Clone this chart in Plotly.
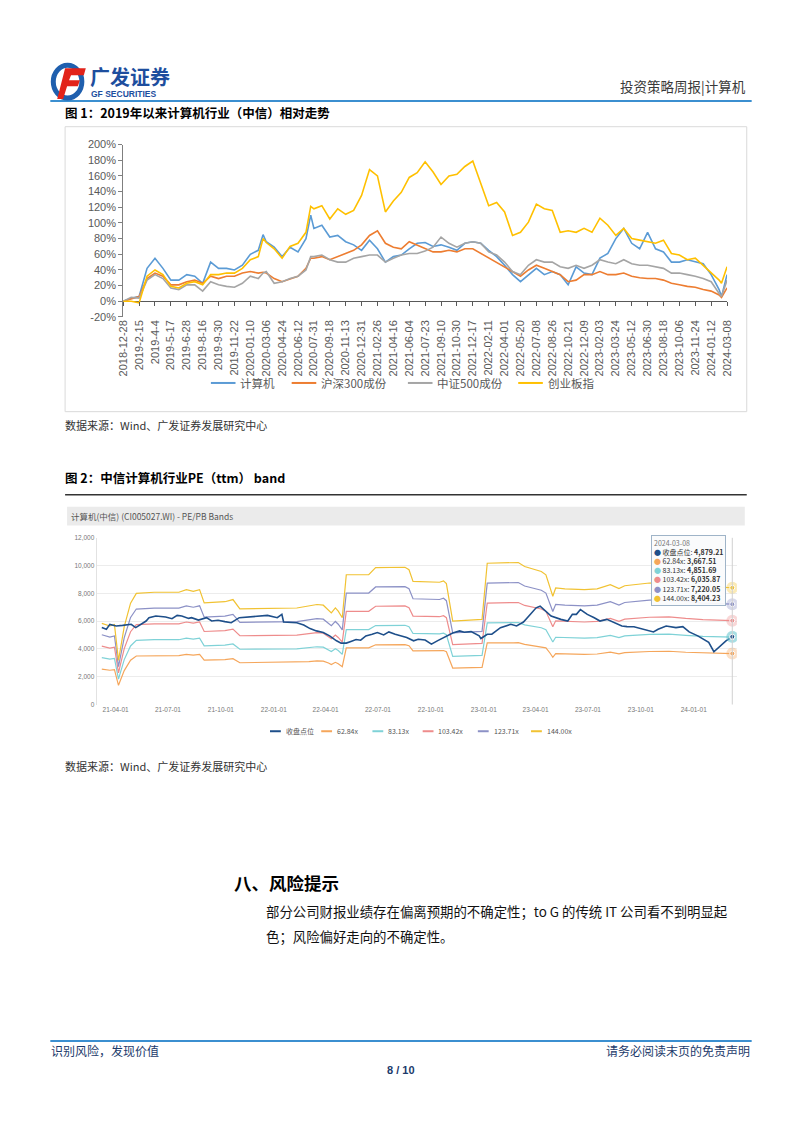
import plotly.graph_objects as go

W, H = 802, 1133
def X(px): return px / W
def Y(py): return 1 - py / H

CJK = "Noto Sans CJK SC"
LAT = "Liberation Sans, Arial"

# ---------------- Figure 1 data (relative performance, %) ----------------
tick_labels = ["2018-12-28","2019-2-15","2019-4-4","2019-5-17","2019-6-28","2019-8-16","2019-9-30",
               "2019-11-22","2020-01-10","2020-03-06","2020-04-24","2020-06-12","2020-07-31","2020-09-18",
               "2020-11-13","2020-12-31","2021-02-26","2021-04-16","2021-06-04","2021-07-23","2021-09-10",
               "2021-10-30","2021-12-17","2022-02-11","2022-04-01","2022-05-20","2022-07-08","2022-08-26",
               "2022-10-21","2022-12-09","2023-02-03","2023-03-24","2023-05-12","2023-06-30","2023-08-18",
               "2023-10-06","2023-11-24","2024-01-12","2024-03-08"]
y_ticks = [-20, 0, 20, 40, 60, 80, 100, 120, 140, 160, 180, 200]
# sample positions in units of label intervals
pos = [0, 0.5, 1, 1.5, 2, 2.5, 3, 3.5, 4, 4.5,
       5, 5.5, 6, 6.5, 7, 7.5, 8, 8.5, 8.8, 9,
       9.5, 10, 10.5, 11, 11.5, 11.8, 12, 12.5, 13, 13.5,
       14, 14.5, 15, 15.5, 16, 16.5, 17, 17.5, 18, 18.5,
       19, 19.5, 20, 20.5, 21, 21.5, 22, 22.5, 23, 23.5,
       24, 24.5, 25, 25.5, 26, 26.5, 27, 27.5, 28, 28.5,
       29, 29.5, 30, 30.5, 31, 31.5, 32, 32.5, 33, 33.5,
       34, 34.5, 35, 35.5, 36, 36.5, 37, 37.5, 37.65, 38]
computer = [0, 4, 6, 42, 55, 42, 27, 27, 34, 32,
            23, 50, 42, 42, 40, 46, 60, 65, 85, 76,
            69, 57, 69, 63, 80, 110, 93, 97, 82, 84,
            76, 72, 65, 78, 67, 50, 57, 59, 67, 74,
            75, 70, 72, 69, 65, 74, 76, 74, 65, 57,
            46, 34, 25, 34, 42, 34, 38, 34, 21, 44,
            36, 34, 55, 61, 80, 93, 74, 67, 88, 67,
            63, 50, 50, 53, 50, 48, 34, 15, 6, 34]
hs300 = [0, 3, 6, 29, 36, 32, 21, 21, 25, 27,
         23, 32, 29, 32, 32, 36, 38, 36, 37, 36,
         29, 25, 29, 32, 42, 55, 55, 57, 53, 57,
         61, 65, 72, 84, 90, 74, 69, 67, 76, 72,
         68, 63, 63, 65, 63, 67, 67, 61, 55, 50,
         44, 38, 32, 40, 46, 42, 38, 34, 25, 27,
         34, 34, 38, 34, 34, 36, 32, 30, 29, 29,
         27, 23, 21, 19, 18, 15, 13, 8, 5, 17]
zz500 = [0, 5, 4, 27, 34, 29, 17, 15, 21, 21,
         13, 25, 21, 19, 18, 23, 32, 29, 36, 38,
         23, 25, 29, 32, 40, 57, 57, 59, 53, 50,
         50, 55, 57, 59, 59, 50, 55, 59, 61, 61,
         64, 69, 82, 74, 69, 74, 76, 74, 63, 59,
         50, 38, 34, 46, 53, 50, 50, 44, 42, 46,
         42, 46, 53, 50, 48, 53, 48, 46, 46, 44,
         42, 36, 36, 34, 32, 29, 25, 10, 6, 27]
cyb = [0, 0, -2, 32, 40, 34, 19, 17, 23, 25,
       21, 34, 34, 36, 36, 42, 53, 57, 80, 75,
       67, 55, 70, 74, 88, 121, 118, 122, 105, 118,
       111, 116, 135, 168, 160, 114, 128, 139, 158, 164,
       178, 165, 149, 160, 162, 172, 179, 151, 122, 126,
       114, 84, 88, 101, 124, 118, 116, 88, 90, 88,
       93, 88, 106, 97, 84, 93, 80, 78, 76, 74,
       78, 61, 59, 53, 55, 46, 36, 27, 23, 44]
fig1_names = ["计算机", "沪深300成份", "中证500成份", "创业板指"]
fig1_colors = ["#5B9BD5", "#ED7D31", "#A5A5A5", "#FFC000"]
fig1_series = [computer, hs300, zz500, cyb]

# ---------------- Figure 2 data (PE band) ----------------
close_dates = ["2021-03-08","2021-03-16","2021-03-22","2021-04-02","2021-04-13","2021-04-28","2021-05-06","2021-05-15","2021-05-24","2021-05-29",
               "2021-06-10","2021-06-27","2021-07-08","2021-07-17","2021-07-25","2021-08-06","2021-08-11","2021-08-23","2021-09-06","2021-09-15",
               "2021-09-26","2021-10-08","2021-10-19","2021-11-02","2021-12-04","2021-12-21","2022-01-07","2022-01-15","2022-01-18","2022-02-10",
               "2022-02-22","2022-03-05","2022-03-16","2022-03-28","2022-04-08","2022-04-20","2022-04-28","2022-05-07","2022-05-15","2022-05-24",
               "2022-06-01","2022-06-10","2022-06-21","2022-06-30","2022-07-11","2022-07-20","2022-07-31","2022-08-12","2022-08-20","2022-09-01",
               "2022-09-09","2022-09-21","2022-10-02","2022-10-13","2022-10-28","2022-11-08","2022-11-20","2022-11-28","2022-12-10","2022-12-24",
               "2022-12-27","2023-01-07","2023-01-15","2023-01-30","2023-02-17","2023-02-27","2023-03-11","2023-03-25","2023-04-02","2023-04-09",
               "2023-04-18","2023-04-28","2023-05-15","2023-05-27","2023-06-04","2023-06-11","2023-06-18","2023-06-30","2023-07-12","2023-07-22",
               "2023-08-03","2023-08-21","2023-08-29","2023-09-07","2023-09-19","2023-10-23","2023-10-31","2023-11-14","2023-12-01","2023-12-13",
               "2023-12-24","2024-01-08","2024-01-22","2024-01-27","2024-02-05","2024-02-16","2024-02-26","2024-03-08"]
close_vals = [5550, 5420, 5770, 5655, 5700, 5775, 5535, 5775, 6010, 6250,
              6370, 6300, 6180, 6415, 6370, 6200, 6250, 6080, 6250, 6010,
              6060, 5965, 5890, 6250, 6370, 6415, 6250, 6490, 5940, 5890,
              5725, 5465, 5300, 5180, 4940, 4585, 4420, 4420, 4540, 4680,
              4630, 4940, 5060, 5180, 5010, 5225, 5060, 4940, 4825, 4585,
              4700, 4640, 4350, 4600, 4940, 5150, 5300, 5200, 5250, 4940,
              4750, 5060, 5060, 5535, 5775, 5655, 5940, 6605, 6960, 7080,
              6725, 6370, 6130, 6010, 6490, 6490, 6840, 6490, 6250, 6010,
              6130, 5775, 5655, 5610, 5600, 5225, 5420, 5655, 5535, 5610,
              5225, 4940, 4585, 4470, 3800, 4230, 4585, 4879.21]
band_dates = ["2021-03-08","2021-03-22","2021-03-30","2021-04-06","2021-04-16","2021-04-27","2021-05-07","2021-06-07","2021-07-20","2021-08-02",
              "2021-08-14","2021-08-25","2021-09-02","2021-10-08","2021-10-22","2021-11-03","2022-02-10","2022-03-03","2022-03-17","2022-03-28",
              "2022-04-06","2022-04-11","2022-04-18","2022-04-23","2022-04-30","2022-05-07","2022-06-15","2022-06-27","2022-08-17","2022-08-24",
              "2022-08-31","2022-10-16","2022-10-23","2022-10-28","2022-11-08","2022-12-29","2023-01-07","2023-02-22","2023-03-02","2023-03-13",
              "2023-03-30","2023-04-11","2023-04-19","2023-04-26","2023-05-01","2023-05-06","2023-05-22","2023-06-25","2023-07-17","2023-08-09",
              "2023-08-24","2023-09-03","2023-10-16","2023-11-19","2023-12-18","2024-01-17","2024-03-08"]
eps_ttm = [40.59, 39.27, 39.93, 22.01, 38.89, 50.69, 55.56, 56.11, 56.11, 57.43,
           56.60, 57.43, 50.83, 51.39, 52.47, 47.85, 48.26, 49.17, 50.00, 49.65,
           47.50, 45.83, 48.33, 46.70, 43.40, 64.86, 64.86, 68.40, 68.61, 67.36,
           61.53, 61.11, 61.81, 60.42, 41.74, 42.57, 70.63, 70.63, 70.97, 68.96,
           67.29, 66.49, 64.86, 59.03, 54.10, 58.26, 57.85, 57.43, 57.85, 59.90,
           57.92, 59.38, 60.73, 61.04, 59.90, 59.03, 58.36271]
pe_multiples = [62.84, 83.13, 103.42, 123.71, 144.00]
band_colors = ["#F5A65B", "#7FD2D7", "#EE8C8C", "#8C91C6", "#F1C232"]
close_name = "收盘点位"
close_color = "#1E4F8A"

fig = go.Figure()

# ---- Figure 1 traces
for name, vals, col in zip(fig1_names, fig1_series, fig1_colors):
    fig.add_trace(go.Scatter(x=pos, y=vals, mode="lines", name=name,
                             line=dict(color=col, width=1.6), xaxis="x", yaxis="y",
                             showlegend=False, hoverinfo="skip"))
# helper trace for tick marks on the 0% line
fig.add_trace(go.Scatter(x=[pos[0], pos[-1]], y=[0, 0], mode="lines", opacity=0,
                         xaxis="x3", yaxis="y", showlegend=False, hoverinfo="skip"))

# ---- Figure 2 traces
for m, col in zip(pe_multiples, band_colors):
    fig.add_trace(go.Scatter(x=band_dates, y=[m * e for e in eps_ttm], mode="lines",
                             name=f"{m:.2f}x", line=dict(color=col, width=1.2),
                             xaxis="x2", yaxis="y2", showlegend=False, hoverinfo="skip"))
fig.add_trace(go.Scatter(x=close_dates, y=close_vals, mode="lines", name=close_name,
                         line=dict(color=close_color, width=1.6),
                         xaxis="x2", yaxis="y2", showlegend=False, hoverinfo="skip"))
# end-point highlight markers
end_vals = [m * eps_ttm[-1] for m in pe_multiples] + [close_vals[-1]]
end_cols = band_colors + [close_color]
end_dates = [band_dates[-1]] * len(pe_multiples) + [close_dates[-1]]
halo_cols = band_colors[:] + ["#5BC0C8"]
fig.add_trace(go.Scatter(x=end_dates, y=end_vals, mode="markers",
                         marker=dict(size=12, color=halo_cols, opacity=0.35),
                         xaxis="x2", yaxis="y2", showlegend=False, hoverinfo="skip"))
fig.add_trace(go.Scatter(x=end_dates, y=end_vals, mode="markers",
                         marker=dict(size=5, color=end_cols, line=dict(color="white", width=1)),
                         xaxis="x2", yaxis="y2", showlegend=False, hoverinfo="skip"))

fig.update_layout(
    width=W, height=H, margin=dict(l=0, r=0, t=0, b=0),
    paper_bgcolor="white", plot_bgcolor="white", showlegend=False,
    xaxis=dict(domain=[X(119), X(732)], range=[0, 38], anchor="y",
               tickvals=list(range(len(tick_labels))), ticktext=tick_labels, tickangle=-90,
               tickfont=dict(size=11, color="#595959", family=LAT),
               showgrid=False, zeroline=False, showline=False, ticks=""),
    xaxis3=dict(overlaying="x", matches="x", anchor="free", position=Y(298.5),
                tickvals=list(range(len(tick_labels))), showticklabels=False,
                ticks="outside", ticklen=4, tickcolor="#595959",
                showgrid=False, zeroline=False, showline=False),
    yaxis=dict(domain=[Y(314.3), Y(140)], range=[-20, 200],
               tickvals=y_ticks, ticktext=[f"{v}%" for v in y_ticks],
               anchor="x", tickfont=dict(size=11, color="#595959", family=LAT),
               showgrid=False, zeroline=True, zerolinecolor="#595959", zerolinewidth=1,
               showline=True, linecolor="#7f7f7f", linewidth=1,
               ticks="outside", ticklen=4, tickcolor="#7f7f7f"),
    xaxis2=dict(domain=[X(92), X(742)], range=["2021-02-27", "2024-03-16"], type="date",
                anchor="y2", tickformat="%y-%m-%d", dtick="M3", tick0="2021-01-01",
                tickfont=dict(size=6.5, color="#777777", family=LAT),
                showgrid=False, zeroline=False, showline=False, ticks=""),
    yaxis2=dict(domain=[Y(706), Y(537.5)], range=[0, 12000], dtick=2000, tickformat=",",
                anchor="x2", tickfont=dict(size=6.5, color="#777777", family=LAT),
                gridcolor="#ececec", gridwidth=1, zeroline=False,
                showline=True, linecolor="#e2e2e2", ticks=""),
)

shapes = []
def hline(x0, x1, y, color, width):
    shapes.append(dict(type="line", xref="paper", yref="paper", x0=X(x0), x1=X(x1),
                       y0=Y(y), y1=Y(y), line=dict(color=color, width=width)))

def txt(s, px, py, size, color="#000000", bold=False, xanchor="left", family=CJK):
    fig.add_annotation(text=s, x=X(px), y=Y(py), xref="paper", yref="paper",
                       showarrow=False, xanchor=xanchor, yanchor="middle",
                       font=dict(size=size, color=color, family=family,
                                 weight="bold" if bold else "normal"))

# ---- page header
hline(45, 757, 96, "#3B8FD0", 2)
# logo
shapes.append(dict(type="circle", xref="paper", yref="paper", x0=X(48), x1=X(77),
                   y0=Y(93), y1=Y(60), line=dict(color="#1F5FAE", width=5)))
shapes.append(dict(type="path", xref="paper", yref="paper", fillcolor="#E2231A", line=dict(width=0),
                   path=f"M {X(60)} {Y(63)} L {X(81)} {Y(63)} L {X(79)} {Y(70)} L {X(66)} {Y(70)} "
                        f"L {X(64)} {Y(75)} L {X(75)} {Y(75)} L {X(73)} {Y(81)} L {X(62)} {Y(81)} "
                        f"L {X(58)} {Y(94)} L {X(52)} {Y(94)} Z"))
txt("广发证券", 83, 71, 20, "#1D4E9E", True)
txt("GF SECURITIES", 84, 88.5, 8.5, "#1D4E9E", True, family=LAT)
txt("投资策略周报|计算机", 753, 81, 13.5, "#3a3a3a", False, xanchor="right")

# ---- figure 1 header & frame
txt("图 1：2019年以来计算机行业（中信）相对走势", 58, 108, 12.5, "#000000", True)
shapes.append(dict(type="rect", xref="paper", yref="paper", x0=X(60), x1=X(752),
                   y0=Y(410), y1=Y(122), line=dict(color="#dadada", width=1)))
# legend of figure 1
leg1_x = [208, 290, 408, 520]
for name, col, lx in zip(fig1_names, fig1_colors, leg1_x):
    hline(lx, lx + 25, 381, col, 2)
    txt(name, lx + 28, 381, 11.5, "#595959")
txt("数据来源：Wind、广发证券发展研究中心", 58, 423, 11, "#333333")

# ---- figure 2 header
txt("图 2：中信计算机行业PE（ttm） band", 58, 477, 12.5, "#000000", True)
hline(60, 752, 494, "#333333", 1.5)
shapes.append(dict(type="rect", xref="paper", yref="paper", x0=X(62), x1=X(750),
                   y0=Y(525), y1=Y(506), fillcolor="#ebebeb", line=dict(width=0), layer="below"))
txt("计算机(中信) (CI005027.WI) - PE/PB Bands", 64, 515.5, 8.5, "#555555")
# crosshair at last date
shapes.append(dict(type="line", xref="x2", yref="paper", x0=close_dates[-1], x1=close_dates[-1],
                   y0=Y(706), y1=Y(537.5), line=dict(color="#d0d0d0", width=1)))
# legend of figure 2
leg2_items = [(close_name, close_color)] + [(f"{m:.2f}x", c) for m, c in zip(pe_multiples, band_colors)]
leg2_x = [268, 320, 372, 423, 479, 533]
for (name, col), lx in zip(leg2_items, leg2_x):
    hline(lx, lx + 11, 733, col, 2)
    txt(name, lx + 14, 733, 7, "#555555", family=CJK)
# tooltip
tip_lines = [f"<span style='color:#777777'>{close_dates[-1]}</span>",
             f"<span style='color:{close_color}'>●</span> {close_name}: <b>{close_vals[-1]:,.2f}</b>"]
for m, c in zip(pe_multiples, band_colors):
    tip_lines.append(f"<span style='color:{c}'>●</span> {m:.2f}x: <b>{m * eps_ttm[-1]:,.2f}</b>")
fig.add_annotation(text="<br>".join(tip_lines), x=X(655), y=Y(535), xref="paper", yref="paper",
                   showarrow=False, xanchor="left", yanchor="top", align="left",
                   bgcolor="rgba(250,251,252,0.95)", bordercolor="#9fb4c8", borderwidth=1,
                   borderpad=2, font=dict(size=7, color="#333333", family=CJK))
txt("数据来源：Wind、广发证券发展研究中心", 58, 768, 11, "#333333")

# ---- section text
txt("八、风险提示", 229, 886, 17.5, "#000000", True)
txt("部分公司财报业绩存在偏离预期的不确定性；to G 的传统 IT 公司看不到明显起", 262, 915, 13.4, "#111111")
txt("色；风险偏好走向的不确定性。", 262, 940, 13.4, "#111111")

# ---- footer
hline(45, 757, 1046, "#3B8FD0", 2)
txt("识别风险，发现价值", 44, 1056, 12, "#1B3A6B")
txt("请务必阅读末页的免责声明", 757, 1056, 12, "#1B3A6B", xanchor="right")
txt("8 / 10", 401, 1075, 11, "#1B3A6B", True, xanchor="center", family=LAT)

fig.update_layout(shapes=shapes)
fig.write_html("out.html", config={"displayModeBar": False})
